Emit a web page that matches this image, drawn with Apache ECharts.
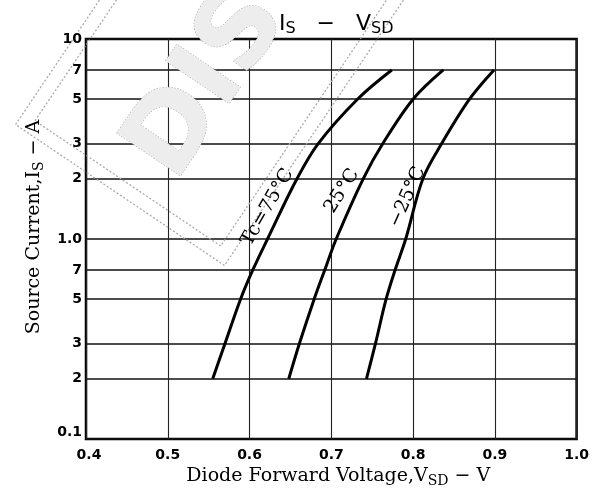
<!DOCTYPE html>
<html><head><meta charset="utf-8">
<script src="https://cdn.jsdelivr.net/npm/echarts@6/dist/echarts.min.js"></script>
<style>html,body{margin:0;padding:0;background:#fff}#c{width:592px;height:495px}</style>
</head><body><div id="c"></div>
<script>
// ---- data ----
const currentsA = [0.2, 0.3, 0.5, 0.7, 1.0, 2.0, 3.0, 5.0, 7.0];
const vsd75  = [0.555, 0.570, 0.589, 0.604, 0.622, 0.658, 0.684, 0.732, 0.774];
const vsd25  = [0.648, 0.661, 0.679, 0.692, 0.706, 0.739, 0.763, 0.800, 0.837];
const vsdM25 = [0.743, 0.754, 0.767, 0.778, 0.791, 0.812, 0.835, 0.869, 0.899];
const curveLabels = ['Tc=75°C', '25°C', '−25°C'];
const labelV = [0.622, 0.713, 0.793];
const labelI = [1.44, 1.74, 1.62];
const labelRotDeg = [60, 58, 66];
const yTickValues = [0.1, 0.2, 0.3, 0.5, 0.7, 1, 2, 3, 5, 7, 10];
const yTickLabels = ['0.1', '2', '3', '5', '7', '1.0', '2', '3', '5', '7', '10'];
const xTickValues = [0.4, 0.5, 0.6, 0.7, 0.8, 0.9, 1.0];
const xTickLabels = ['0.4', '0.5', '0.6', '0.7', '0.8', '0.9', '1.0'];

const chart = echarts.init(document.getElementById('c'), null, {renderer: 'canvas'});
const tickFont = '"DejaVu Sans"';
const serif = '"DejaVu Serif"';

function yLabel(v) {
  for (let i = 0; i < yTickValues.length; i++) {
    if (Math.abs(v - yTickValues[i]) < 1e-6 * yTickValues[i]) {
      return i === 0 ? '{lift|' + yTickLabels[i] + '}' : yTickLabels[i];
    }
  }
  return '';
}
function xLabel(v) {
  for (let i = 0; i < xTickValues.length; i++) {
    if (Math.abs(v - xTickValues[i]) < 1e-6) {
      return i === 0 ? '{shift|' + xTickLabels[i] + '}' : xTickLabels[i];
    }
  }
  return '';
}
function mkSeries(vs) {
  return {
    type: 'line', smooth: 0.35, symbol: 'none', silent: true,
    lineStyle: {color: '#000', width: 3},
    data: currentsA.map((c, i) => [vs[i], c])
  };
}

chart.setOption({
  animation: false,
  backgroundColor: '#fff',
  title: {
    left: 274, top: 6,
    text: '{m|I}{s|S}{m|   −   V}{s|SD}',
    textStyle: {
      fontWeight: 'normal',
      rich: {
        m: {fontFamily: '"DejaVu Sans"', fontSize: 22, color: '#000', fontWeight: 'normal'},
        s: {fontFamily: '"DejaVu Sans"', fontSize: 16, color: '#000', fontWeight: 'normal', padding: [10, 0, 0, 0]}
      }
    }
  },
  grid: {left: 86, right: 14, top: 39, bottom: 56, show: true, borderColor: '#000', borderWidth: 2.5, containLabel: false},
  xAxis: {
    type: 'value', min: 0.4, max: 1.0, interval: 0.1,
    name: 'Diode Forward Voltage,V{s|SD} − V',
    nameLocation: 'middle', nameGap: 21,
    nameTextStyle: {
      fontFamily: serif, fontSize: 19, color: '#000', padding: [0, 0, 0, 14],
      rich: {s: {fontFamily: serif, fontSize: 14, color: '#000', padding: [9, 0, 0, 0]}}
    },
    axisLine: {show: false},
    axisTick: {show: false},
    axisLabel: {
      margin: 9, color: '#000', fontFamily: tickFont, fontWeight: 'bold', fontSize: 14,
      formatter: xLabel,
      rich: {shift: {fontFamily: tickFont, fontWeight: 'bold', fontSize: 14, color: '#000', padding: [0, 0, 0, 6]}}
    },
    splitLine: {show: true, lineStyle: {color: '#222', width: 1.1}}
  },
  yAxis: {
    type: 'log', logBase: 10, min: 0.1, max: 10,
    name: 'Source Current,I{s|S} − A',
    nameLocation: 'middle', nameGap: 40, nameRotate: 90,
    nameTextStyle: {
      fontFamily: serif, fontSize: 19, color: '#000', padding: [0, 0, 0, 24],
      rich: {s: {fontFamily: serif, fontSize: 14, color: '#000', padding: [9, 0, 0, 0]}}
    },
    axisLine: {show: false},
    axisTick: {show: false, customValues: yTickValues},
    axisLabel: {
      margin: 4, color: '#000', fontFamily: tickFont, fontWeight: 'bold', fontSize: 14,
      customValues: yTickValues, formatter: yLabel,
      rich: {lift: {fontFamily: tickFont, fontWeight: 'bold', fontSize: 14, color: '#000', padding: [0, 0, 14, 0]}}
    },
    splitLine: {show: true, lineStyle: {color: '#111', width: 1.7}}
  },
  series: [mkSeries(vsd75), mkSeries(vsd25), mkSeries(vsdM25)]
});

const gfx = [];
// watermark stamp
gfx.push({
  type: 'group', x: 120, y: 195, rotation: 56 * Math.PI / 180, z: -1, silent: true,
  children: [
    {type: 'rect', shape: {x: 0, y: -126, width: 900, height: 252}, style: {fill: 'none', stroke: '#aaa', lineWidth: 1.3, lineDash: [2, 2]}},
    {type: 'rect', shape: {x: 14, y: -112, width: 900, height: 224}, style: {fill: 'none', stroke: '#aaa', lineWidth: 1.3, lineDash: [2, 2]}},
    {type: 'text', style: {text: 'DISCONTINUED', x: 40, y: 12, font: 'bold 105px "DejaVu Sans"', fill: '#ededed', stroke: '#a0a0a0', lineWidth: 1, lineDash: [1.5, 1.5], verticalAlign: 'middle', align: 'left'}}
  ]
});
for (let i = 0; i < curveLabels.length; i++) {
  const p = chart.convertToPixel({gridIndex: 0}, [labelV[i], labelI[i]]);
  gfx.push({
    type: 'text', x: p[0], y: p[1], rotation: labelRotDeg[i] * Math.PI / 180, z: 10, silent: true,
    style: {text: curveLabels[i], font: '19px "DejaVu Serif"', fill: '#000', align: 'center', verticalAlign: 'middle'}
  });
}
chart.setOption({graphic: gfx});
</script>
</body></html>
